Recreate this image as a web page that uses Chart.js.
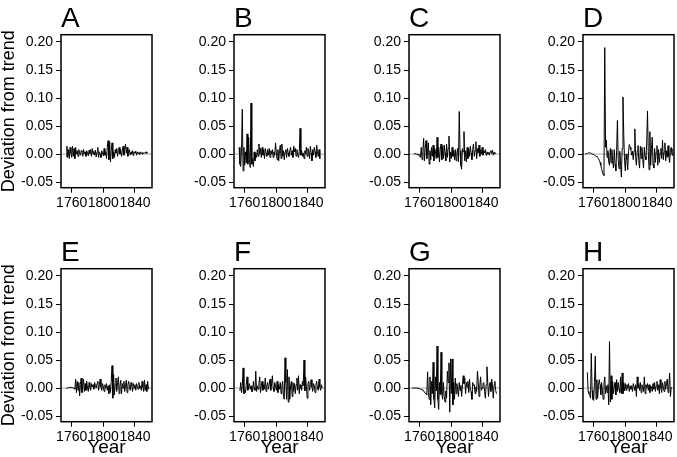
<!DOCTYPE html>
<html>
<head>
<meta charset="utf-8">
<script src="https://cdn.jsdelivr.net/npm/chart.js@4.4.0/dist/chart.umd.min.js"></script>
<style>
  body { margin: 0; background: #fff; }
  #wrap { position: relative; width: 677px; height: 457px; overflow: hidden; background: #fff; }
  #wrap canvas { position: absolute; }
</style>
</head>
<body>
<div id="wrap"></div>
<script>
// Deviation from trend, one value per year
const devA = [-0.004, 0.014, -0.006, 0.008, -0.008, 0.012, 0.002, -0.006, 0.014, -0.004,
  0.010, -0.008, 0.012, 0.000, 0.006, -0.004, 0.008, 0.002, -0.002, 0.006,
  0.004, -0.004, 0.008, 0.000, 0.004, -0.004, 0.006, 0.002, -0.003, 0.007,
  0.001, 0.008, -0.004, 0.010, 0.000, 0.005, -0.002, 0.007, -0.005, 0.004,
  0.012, -0.006, 0.004, 0.000, -0.006, 0.006, 0.002, -0.003, 0.010, -0.002,
  0.004, -0.008, 0.012, 0.024, -0.010, 0.022, -0.014, 0.006, 0.020, -0.008,
  0.004, -0.006, 0.008, 0.002, 0.010, -0.004, 0.006, 0.012, 0.000, 0.008,
  -0.004, 0.006, 0.014, -0.002, 0.008, 0.018, 0.002, 0.012, -0.004, 0.006,
  0.008, -0.002, 0.004, 0.000, 0.006, -0.003, 0.004, 0.002, 0.005, -0.002,
  0.004, 0.001, 0.003, -0.001, 0.004, 0.002, 0.000, 0.003, 0.001, 0.002,
  0.002, 0.004, 0.001];

const devB = [0.012, -0.018, -0.022, 0.010, 0.080, -0.030, 0.012, -0.020, 0.004, -0.016,
  0.036, -0.018, 0.030, -0.010, -0.024, 0.091, -0.018, -0.008, -0.022, 0.004,
  -0.012, 0.002, -0.006, 0.008, -0.004, 0.018, 0.000, 0.010, -0.006, 0.012,
  -0.002, 0.008, -0.008, 0.010, 0.002, -0.004, 0.008, -0.002, 0.010, -0.006,
  0.006, 0.000, 0.008, -0.006, 0.004, -0.002, 0.020, 0.002, -0.010, 0.008,
  -0.012, 0.006, 0.016, -0.008, 0.018, -0.004, 0.006, -0.010, 0.004, 0.008,
  -0.006, 0.010, 0.002, -0.004, 0.006, 0.012, -0.002, 0.006, -0.006, 0.014,
  0.004, 0.010, -0.004, 0.008, 0.002, -0.006, 0.004, 0.046, -0.002, 0.006,
  -0.004, 0.002, -0.008, 0.006, 0.000, 0.012, -0.004, 0.010, 0.004, -0.008,
  0.014, 0.002, -0.012, 0.008, -0.002, 0.012, 0.004, -0.006, 0.016, 0.004,
  -0.004, 0.008, -0.008];

const devC = [0.000, 0.001, 0.001, 0.000, -0.001,
  0.000, -0.002, -0.004, -0.006, 0.012, -0.010, 0.004, 0.028, -0.012, 0.010,
  0.024, -0.008, 0.004, 0.020, -0.018, 0.006, -0.010, 0.012, -0.004, 0.016,
  -0.012, 0.010, 0.004, -0.008, 0.030, -0.006, 0.012, -0.014, 0.008, 0.018,
  -0.010, 0.014, -0.008, 0.016, 0.002, -0.012, 0.018, -0.006, 0.010, 0.032,
  -0.014, 0.004, -0.008, 0.012, -0.004, 0.006, -0.010, 0.008, -0.012, 0.002,
  0.010, -0.014, 0.076, 0.006, -0.020, -0.027, 0.010, 0.004, 0.040, -0.012,
  0.006, -0.014, 0.012, -0.008, 0.010, -0.004, 0.014, 0.002, -0.010, 0.008,
  0.018, -0.004, 0.006, 0.022, -0.008, 0.010, 0.002, 0.016, -0.004, 0.008,
  0.000, 0.012, -0.002, 0.006, 0.002, 0.008, -0.002, 0.004, 0.000, 0.003,
  -0.002, 0.004, 0.006, 0.001, 0.007, -0.002, 0.003, 0.000];

const devD = [0.000, 0.000, 0.001, 0.001, 0.002, 0.002, 0.002, 0.002, 0.001, 0.000,
  0.000, -0.001, -0.002, -0.003, -0.004, -0.005, -0.006, -0.008, -0.011, -0.015,
  -0.020, -0.026, -0.032, -0.036, -0.038, 0.190, 0.012, 0.025, -0.006, 0.006,
  -0.014, -0.020, 0.010, -0.016, 0.008, -0.012, -0.025, 0.008, -0.018, -0.030,
  0.006, 0.060, -0.010, -0.026, 0.005, -0.018, -0.041, 0.010, 0.102, 0.035,
  -0.012, -0.030, 0.000, -0.010, -0.028, 0.004, 0.017, 0.012, 0.008, -0.002,
  0.005, -0.010, 0.006, 0.045, -0.006, -0.020, 0.006, 0.015, -0.012, -0.025,
  0.014, -0.008, 0.012, -0.010, -0.025, 0.012, -0.004, -0.010, 0.020, 0.077,
  0.004, -0.028, 0.040, -0.020, 0.010, 0.030, -0.018, -0.025, 0.010, -0.015,
  0.004, 0.015, -0.020, 0.008, -0.015, 0.002, 0.010, -0.008, 0.025, -0.010,
  0.004, 0.020, -0.012, 0.006, -0.006, 0.015, -0.004, -0.015, 0.006, 0.012,
  -0.002, 0.010];

const devE = [0.000, 0.000, 0.000, 0.001, 0.001, 0.001, 0.002, 0.001, 0.001, 0.000,
  0.000, -0.002, 0.016, -0.008, 0.012, -0.004, 0.010, -0.014, 0.006, 0.018,
  -0.008, 0.004, 0.016, -0.006, 0.008, -0.004, 0.012, 0.000, -0.006, 0.010,
  0.002, -0.004, 0.008, 0.002, 0.006, -0.002, 0.010, 0.004, 0.000, 0.008,
  0.012, -0.004, 0.006, 0.016, 0.002, -0.004, 0.008, 0.002, -0.006, 0.006,
  0.000, 0.008, -0.004, 0.004, -0.010, 0.006, -0.008, 0.012, 0.040, -0.018,
  0.024, -0.012, 0.006, 0.018, -0.006, 0.010, 0.020, -0.010, 0.004, 0.014,
  -0.010, 0.008, 0.000, 0.012, -0.006, 0.004, 0.014, -0.008, 0.006, 0.012,
  0.002, -0.004, 0.010, 0.004, -0.006, 0.008, 0.000, 0.006, -0.004, 0.008,
  0.002, -0.002, 0.010, 0.000, 0.004, -0.004, 0.012, 0.002, -0.006, 0.014,
  -0.004, 0.006, -0.006, 0.012, -0.002];

const devF = [-0.005, 0.010, -0.008, 0.004, 0.036, -0.010, -0.004, -0.008, 0.006, 0.020,
  -0.004, 0.002, 0.008, -0.002, 0.004, -0.006, -0.006, 0.012, 0.000, -0.004,
  0.030, -0.006, 0.004, -0.002, 0.008, 0.020, -0.008, 0.004, 0.012, -0.004,
  0.006, -0.002, 0.018, -0.006, 0.004, 0.010, -0.002, 0.006, 0.016, -0.004,
  0.008, 0.022, 0.000, -0.006, 0.010, 0.004, -0.004, 0.012, -0.008, 0.006,
  -0.002, 0.010, -0.010, 0.004, 0.012, -0.015, -0.020, 0.054, 0.010, -0.020,
  0.033, -0.025, 0.020, -0.020, 0.004, 0.012, -0.015, 0.010, -0.006, 0.008,
  -0.010, 0.006, 0.018, -0.004, 0.022, -0.010, 0.006, 0.000, -0.004, 0.012,
  0.004, 0.050, -0.005, 0.020, 0.002, -0.018, 0.008, 0.012, -0.004, 0.006,
  0.015, 0.002, -0.006, 0.008, 0.004, -0.008, 0.006, 0.012, 0.000, -0.004,
  0.016, 0.002, -0.004, 0.006, 0.000];

const devG = [0.000, 0.000, 0.000, 0.000, 0.000, 0.000, 0.000, 0.000, 0.000, -0.001,
  -0.001, -0.002, -0.002, -0.003, -0.004, -0.005, -0.007, -0.009, -0.011, -0.012,
  0.029, -0.008, -0.020, 0.020, -0.030, 0.012, -0.010, 0.046, -0.020, -0.035,
  0.020, -0.005, 0.075, -0.020, -0.038, 0.010, -0.012, 0.064, -0.010, -0.020,
  0.010, -0.015, -0.025, -0.005, -0.018, 0.030, 0.010, 0.045, -0.043, 0.052,
  -0.010, 0.052, -0.030, 0.010, -0.020, 0.018, -0.010, 0.008, -0.002, -0.015,
  0.010, -0.004, 0.005, -0.015, 0.004, 0.022, 0.008, 0.018, -0.010, 0.010,
  0.002, 0.012, -0.008, 0.016, -0.004, -0.006, -0.020, 0.010, 0.004, 0.006,
  -0.010, 0.002, -0.006, 0.030, 0.012, -0.015, 0.004, 0.020, -0.004, 0.000,
  0.008, 0.010, -0.006, -0.018, 0.006, 0.038, 0.010, -0.015, 0.004, 0.010,
  -0.006, 0.016, 0.004, -0.018, 0.006, 0.012, -0.004, -0.010];

const devH = [0.028, -0.006, -0.010, -0.012, -0.018, 0.062, -0.004, -0.020, -0.022, 0.010,
  0.057, -0.020, 0.015, -0.018, 0.004, 0.015, 0.006, -0.012, 0.010, -0.004,
  -0.020, 0.008, 0.020, -0.010, 0.004, -0.008, 0.006, -0.030, 0.083, -0.025,
  0.022, -0.020, 0.012, -0.010, 0.002, 0.010, -0.012, 0.015, -0.006, 0.010,
  -0.002, -0.008, 0.020, -0.010, 0.027, -0.010, 0.010, -0.005, 0.008, -0.004,
  0.006, 0.000, 0.008, -0.006, 0.004, -0.002, 0.004, -0.006, 0.008, 0.002,
  -0.004, 0.006, -0.015, 0.020, 0.000, 0.008, -0.004, 0.010, -0.008, 0.006,
  0.002, -0.006, 0.020, -0.010, 0.006, 0.000, 0.008, -0.004, 0.006, -0.008,
  0.004, 0.002, -0.006, 0.008, -0.002, 0.010, -0.006, 0.004, 0.012, -0.004,
  0.006, -0.010, 0.015, 0.000, -0.008, 0.010, 0.002, -0.006, 0.012, -0.002,
  0.008, 0.016, -0.008, 0.004, 0.027, -0.015, 0.002];

const panelLetters = ['A', 'B', 'C', 'D', 'E', 'F', 'G', 'H'];
const startYears = [1753, 1753, 1753, 1749, 1753, 1754, 1750, 1752];
const series = [devA, devB, devC, devD, devE, devF, devG, devH];
const xTicks = [1760, 1800, 1840];
const yTicks = [-0.05, 0.00, 0.05, 0.10, 0.15, 0.20];

Chart.defaults.font.family = "'Liberation Sans', Arial, Helvetica, sans-serif";
Chart.defaults.color = '#000';

// grey zero line under the data, black box round the panel
const frame = {
  id: 'frame',
  beforeDatasetsDraw(chart) {
    const {ctx, chartArea: a, scales} = chart;
    const y0 = scales.y.getPixelForValue(0);
    ctx.save();
    ctx.strokeStyle = '#a8a8a8';
    ctx.lineWidth = 1;
    ctx.beginPath();
    ctx.moveTo(a.left, y0);
    ctx.lineTo(a.right, y0);
    ctx.stroke();
    ctx.restore();
  },
  afterDatasetsDraw(chart) {
    const {ctx, chartArea: a} = chart;
    ctx.save();
    ctx.strokeStyle = '#000';
    ctx.lineWidth = 1.5;
    ctx.strokeRect(a.left, a.top, a.right - a.left, a.bottom - a.top);
    ctx.restore();
  }
};

const plotLefts = [61, 234, 409, 583];
const plotW = 91;
const rowTop = [0, 234];
const rowHeight = [214, 223];
const xAxisH = [26.3, 35.3];
const wrap = document.getElementById('wrap');

series.forEach((vals, i) => {
  const row = Math.floor(i / 4);
  const col = i % 4;
  const left = col === 0 ? 0 : plotLefts[col] - 50;
  const yW = plotLefts[col] - left;

  const canvas = document.createElement('canvas');
  canvas.width = yW + plotW + 2;
  canvas.height = rowHeight[row];
  canvas.style.left = left + 'px';
  canvas.style.top = rowTop[row] + 'px';
  wrap.appendChild(canvas);

  new Chart(canvas, {
    type: 'line',
    data: {
      datasets: [{
        data: vals.map((v, k) => ({x: startYears[i] + k, y: v})),
        borderColor: '#000',
        borderWidth: 1,
        pointRadius: 0,
        tension: 0,
        fill: false
      }]
    },
    options: {
      responsive: false,
      animation: false,
      devicePixelRatio: 1,
      layout: {padding: {right: 2}},
      scales: {
        x: {
          type: 'linear',
          min: 1746.5,
          max: 1861.5,
          afterBuildTicks: s => { s.ticks = xTicks.map(v => ({value: v})); },
          afterFit: s => { s.height = xAxisH[row]; },
          ticks: {
            autoSkip: false, maxRotation: 0, minRotation: 0, padding: 2,
            font: {size: 14}, color: '#000',
            callback: v => String(v)
          },
          grid: {drawOnChartArea: false, tickLength: 5, color: '#000'},
          border: {display: false},
          title: {
            display: row === 1, text: 'Year', color: '#000', padding: 0,
            font: {size: 19, lineHeight: 1}
          }
        },
        y: {
          min: -0.06,
          max: 0.213,
          afterBuildTicks: s => { s.ticks = yTicks.map(v => ({value: v})); },
          afterFit: s => { s.width = yW; },
          ticks: {
            padding: 3, font: {size: 14}, color: '#000',
            callback: v => v.toFixed(2)
          },
          grid: {drawOnChartArea: false, tickLength: 5, color: '#000'},
          border: {display: false},
          title: {
            display: col === 0, text: 'Deviation from trend', color: '#000', padding: 0,
            font: {size: 18, lineHeight: 1}
          }
        }
      },
      plugins: {
        legend: {display: false},
        tooltip: {enabled: false},
        title: {
          display: true,
          text: panelLetters[i],
          align: 'start',
          fullSize: false,
          color: '#000',
          font: {size: 28, weight: 'normal', lineHeight: 1.1},
          padding: {top: 3.9, bottom: 0}
        }
      }
    },
    plugins: [frame]
  });
});
</script>
</body>
</html>
